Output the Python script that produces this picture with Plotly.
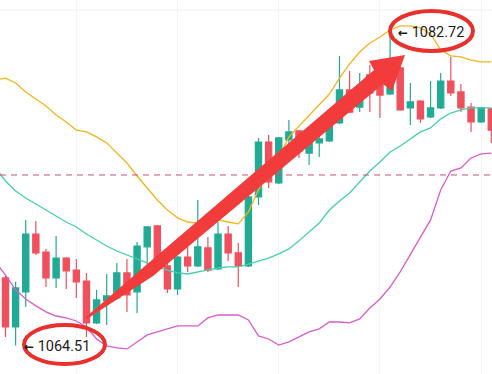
import plotly.graph_objects as go

W, H = 492, 374

# ---- candle data (index = bar number) ----
idx = list(range(49))
opens = [1068.45, 1065.59, 1067.63, 1071.01, 1069.96, 1068.45, 1069.61, 1068.91, 1068.27, 1065.83,
         1067.11, 1067.28, 1068.74, 1067.63, 1070.26, 1071.48, 1069.15, 1067.81, 1069.67, 1069.15,
         1070.20, 1068.97, 1071.01, 1069.91, 1069.15, 1073.17, 1076.37, 1073.99, 1076.49, 1077.02,
         1075.73, 1076.32, 1076.43, 1077.48, 1079.41, 1078.41, 1080.28, 1079.81, 1079.17, 1080.69,
         1078.36, 1078.76, 1077.83, 1078.36, 1079.93, 1079.29, 1078.41, 1077.54, 1078.30]
highs = [1068.56, 1068.22, 1071.83, 1071.77, 1070.14, 1070.90, 1069.67, 1069.56, 1068.74, 1067.75,
         1068.68, 1069.32, 1069.56, 1070.55, 1071.48, 1071.54, 1069.67, 1069.73, 1070.26, 1072.99,
         1070.84, 1071.71, 1071.48, 1070.49, 1073.34, 1076.61, 1076.78, 1076.67, 1077.66, 1077.07,
         1076.37, 1076.78, 1078.24, 1081.39, 1080.51, 1080.40, 1080.86, 1080.75, 1082.72, 1080.75,
         1079.81, 1078.82, 1079.93, 1080.40, 1081.33, 1079.75, 1078.65, 1078.41, 1078.36]
lows = [1065.01, 1064.51, 1066.76, 1069.79, 1067.92, 1067.87, 1067.81, 1067.28, 1065.01, 1065.77,
        1065.71, 1067.17, 1066.47, 1066.41, 1069.09, 1068.80, 1067.57, 1067.46, 1068.80, 1069.09,
        1068.80, 1068.91, 1069.44, 1067.92, 1069.09, 1072.70, 1073.69, 1073.93, 1076.20, 1075.44,
        1075.03, 1075.50, 1076.37, 1077.42, 1078.06, 1078.12, 1078.12, 1077.77, 1079.11, 1078.20,
        1077.37, 1077.48, 1077.77, 1078.30, 1079.06, 1078.12, 1076.96, 1077.48, 1076.32]
closes = [1065.59, 1067.87, 1071.01, 1069.91, 1068.45, 1069.61, 1068.86, 1068.22, 1065.83, 1067.17,
          1067.40, 1068.74, 1067.46, 1070.31, 1071.42, 1069.09, 1067.81, 1069.67, 1069.15, 1070.26,
          1068.91, 1071.01, 1069.91, 1069.15, 1073.17, 1076.37, 1074.04, 1076.61, 1076.96, 1075.85,
          1076.32, 1076.55, 1077.48, 1079.41, 1078.12, 1079.41, 1079.23, 1079.11, 1080.69, 1078.24,
          1078.71, 1077.72, 1078.36, 1079.93, 1079.23, 1078.36, 1077.54, 1078.36, 1077.07]

# ---- Bollinger band values ----
band_idx = list(range(-1, 49))
upper = [1079.99, 1080.10, 1079.81, 1079.29, 1078.88, 1078.47, 1077.95, 1077.54, 1077.07, 1076.96,
         1076.67, 1076.32, 1075.73, 1075.15, 1074.39, 1073.69, 1072.99, 1072.41, 1071.95, 1071.71,
         1071.65, 1071.71, 1071.83, 1071.71, 1071.60, 1072.30, 1073.58, 1074.63, 1075.50, 1076.67,
         1077.31, 1077.95, 1078.59, 1079.17, 1080.10, 1080.92, 1081.62, 1082.14, 1082.49, 1082.90,
         1083.14, 1083.14, 1083.02, 1082.67, 1081.74, 1081.39, 1081.33, 1081.15, 1081.04, 1081.04]
middle = [1074.86, 1074.10, 1073.52, 1073.11, 1072.76, 1072.41, 1072.06, 1071.71, 1071.42, 1071.01,
          1070.66, 1070.31, 1070.02, 1069.79, 1069.56, 1069.32, 1069.09, 1068.91, 1068.74, 1068.68,
          1068.80, 1068.91, 1069.03, 1069.09, 1069.09, 1069.26, 1069.44, 1069.61, 1069.85, 1070.14,
          1070.61, 1071.13, 1071.65, 1072.41, 1072.94, 1073.40, 1074.04, 1074.68, 1075.21, 1075.79,
          1076.14, 1076.55, 1076.96, 1077.19, 1077.72, 1078.06, 1078.24, 1078.36, 1078.36, 1078.36]
lower = [1069.38, 1068.62, 1067.75, 1067.22, 1066.82, 1066.47, 1066.23, 1066.12, 1065.94, 1065.59,
         1064.89, 1064.49, 1064.37, 1064.31, 1064.72, 1065.13, 1065.30, 1065.48, 1065.65, 1065.65,
         1065.65, 1066.12, 1066.29, 1066.29, 1066.29, 1066.00, 1065.07, 1064.89, 1064.54, 1064.72,
         1065.01, 1065.30, 1065.48, 1065.88, 1065.88, 1065.83, 1066.06, 1066.70, 1067.22, 1067.92,
         1068.80, 1069.79, 1070.78, 1071.83, 1073.58, 1074.68, 1074.86, 1075.44, 1075.68, 1075.73]

ref_level = 1074.45
low_idx, low_value = 1, 1064.51
high_idx, high_value = 38, 1082.72

X_RANGE = [-0.543, 48.07]
Y_RANGE = [1062.85, 1084.65]

GREEN = "#22ab94"
RED = "#f0505e"
ARROW_RED = "#f23b3b"


def pp(px, py):
    """pixel -> paper coordinates (plot area fills the page)"""
    return px / W, 1 - py / H


fig = go.Figure()

fig.add_trace(go.Scatter(x=band_idx, y=upper, mode="lines",
                         line=dict(color="#f2b51d", width=1.3), hoverinfo="skip"))
fig.add_trace(go.Scatter(x=band_idx, y=middle, mode="lines",
                         line=dict(color="#45cfae", width=1.3), hoverinfo="skip"))
fig.add_trace(go.Scatter(x=band_idx, y=lower, mode="lines",
                         line=dict(color="#d95ccb", width=1.3), hoverinfo="skip"))

fig.add_trace(go.Candlestick(
    x=idx, open=opens, high=highs, low=lows, close=closes,
    increasing=dict(line=dict(color=GREEN, width=1.2), fillcolor=GREEN),
    decreasing=dict(line=dict(color=RED, width=1.2), fillcolor=RED),
    whiskerwidth=0,
))

# dashed reference line
fig.add_shape(type="line", xref="paper", x0=0, x1=1, yref="y", y0=ref_level, y1=ref_level,
              line=dict(color="#c8507a", width=1, dash="6px,5px"))

# tapered arrow polygon (decoration)
arrow_pts = [(87, 319), (153, 276), (383, 84), (392, 91), (405, 55),
             (369, 61), (374, 70), (145, 266), (86, 317)]
path = "M " + " L ".join("%.4f,%.4f" % pp(x, y) for x, y in arrow_pts) + " Z"
fig.add_shape(type="path", xref="paper", yref="paper", path=path,
              fillcolor=ARROW_RED, line=dict(width=0))

# price labels
ARROW_GLYPH = "<span style='font-family:DejaVu Sans;font-weight:bold;font-size:12px'>←</span> "
fig.add_annotation(x=low_idx, y=low_value, xref="x", yref="y", text=ARROW_GLYPH + f"{low_value:.2f}",
                   showarrow=False, xanchor="left", yanchor="middle", xshift=6, yshift=-1,
                   font=dict(family="Roboto", size=14.5, color="#1c1c1c"))
fig.add_annotation(x=high_idx, y=high_value, xref="x", yref="y", text=ARROW_GLYPH + f"{high_value:.2f}",
                   showarrow=False, xanchor="left", yanchor="middle", xshift=6, yshift=1,
                   font=dict(family="Roboto", size=14.5, color="#1c1c1c"))

# ellipses around labels
for (x0, y0, x1, y1) in [(24, 325, 105, 364), (390, 11, 473, 51)]:
    a0, b1 = pp(x0, y0)
    a1, b0 = pp(x1, y1)
    fig.add_shape(type="circle", xref="paper", yref="paper", x0=a0, x1=a1, y0=b0, y1=b1,
                  line=dict(color="#e8302c", width=4))

fig.update_layout(
    width=W, height=H, margin=dict(l=0, r=0, t=0, b=0),
    paper_bgcolor="white", plot_bgcolor="white",
    showlegend=False, boxgap=0.3, boxgroupgap=0.12,
    xaxis=dict(range=X_RANGE, rangeslider=dict(visible=False), showgrid=True,
               gridcolor="#f4f4f4", dtick=10, tick0=7, showticklabels=False, zeroline=False),
    yaxis=dict(range=Y_RANGE, showgrid=False, showticklabels=False, zeroline=False),
)
fig.add_shape(type="line", xref="paper", x0=0, x1=1, yref="paper", y0=pp(0, 10)[1], y1=pp(0, 10)[1],
              line=dict(color="#f0f0f0", width=1), layer="below")

fig.write_html("out.html", config={"displayModeBar": False},
               post_script="document.body.style.margin='0';")
